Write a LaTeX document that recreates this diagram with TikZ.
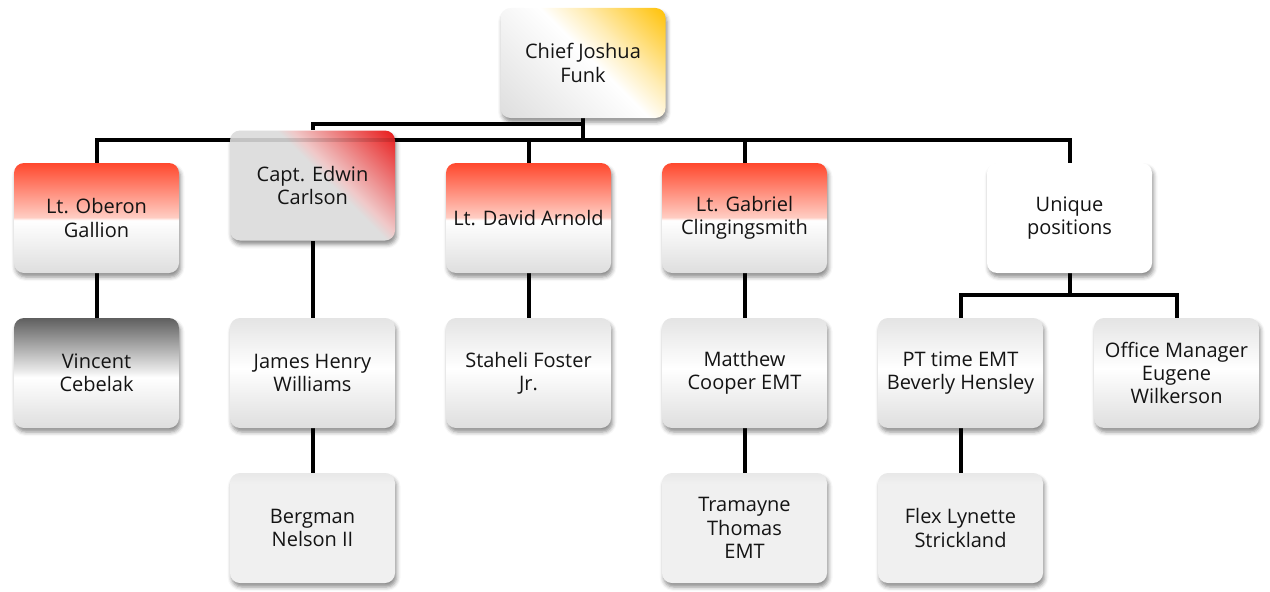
\documentclass[tikz,border=0pt]{standalone}
\usepackage{fontspec}
\setmainfont{Open Sans}
\usetikzlibrary{shadows.blur}
\pgfdeclarelayer{bg}
\pgfsetlayers{bg,main}
\definecolor{redtop}{RGB}{255,72,45}
\definecolor{redpale}{RGB}{255,205,195}
\definecolor{gA}{RGB}{222,222,222}
\definecolor{gB}{RGB}{228,228,228}
\definecolor{gC}{RGB}{240,240,240}
\definecolor{gD}{RGB}{232,232,232}
\definecolor{gdark}{RGB}{95,95,95}
\definecolor{yel}{RGB}{255,192,0}
\definecolor{yelpale}{RGB}{255,236,180}
\definecolor{capred}{RGB}{232,22,22}
\definecolor{cappale}{RGB}{240,200,200}
\definecolor{txt}{RGB}{20,20,20}
\pgfdeclareverticalshading{redbox}{100bp}{color(0bp)=(gA); color(25bp)=(gA); color(49bp)=(white); color(50.3bp)=(redpale); color(75bp)=(redtop); color(100bp)=(redtop)}
\pgfdeclareverticalshading{silver}{100bp}{color(0bp)=(gA); color(25bp)=(gA); color(52bp)=(white); color(75bp)=(gB); color(100bp)=(gB)}
\pgfdeclareverticalshading{darkbox}{100bp}{color(0bp)=(gA); color(25bp)=(gA); color(48bp)=(white); color(52bp)=(gB); color(75bp)=(gdark); color(100bp)=(gdark)}
\pgfdeclareverticalshading{flatbox}{100bp}{color(0bp)=(gC); color(25bp)=(gC); color(70bp)=(gC); color(75bp)=(gD); color(100bp)=(gD)}
\pgfdeclarehorizontalshading{chiefsh}{100bp}{color(0bp)=(gA); color(15bp)=(gA); color(53bp)=(white); color(64bp)=(yelpale); color(86bp)=(yel); color(100bp)=(yel)}
\pgfdeclarehorizontalshading{captsh}{100bp}{color(0bp)=(gA); color(15bp)=(gA); color(55bp)=(gA); color(59bp)=(cappale); color(86bp)=(capred); color(100bp)=(capred)}
\tikzset{
  box/.style={rounded corners=7.5pt, minimum width=123.75pt, minimum height=82.5pt,
    align=center, font=\fontsize{15}{17.5}\selectfont, text=txt, inner sep=2pt,
    blur shadow={shadow xshift=1.2pt, shadow yshift=-3pt, shadow blur radius=3pt, shadow opacity=45}},
  redb/.style={box, shade, shading=redbox},
  silb/.style={box, shade, shading=silver},
  darkb/.style={box, shade, shading=darkbox},
  flatb/.style={box, shade, shading=flatbox},
  whiteb/.style={box, fill=white},
  conn/.style={line width=3pt, black, line join=miter}
}
\begin{document}
\begin{tikzpicture}[x=0.75pt,y=-0.75pt]
\useasboundingbox (0,0) rectangle (1270,592);
\node[box, shade, shading=chiefsh, shading angle=45] (chief) at (583,63) {Chief Joshua\\Funk};
\node[redb] (oberon) at (96.5,218) {Lt. Oberon\\Gallion};
\node[box, shade, shading=captsh, shading angle=45] (capt) at (312.5,185.5) {Capt. Edwin\\Carlson};
\node[redb] (david) at (528.5,218) {Lt. David Arnold};
\node[redb] (gabriel) at (744.5,218) {Lt. Gabriel\\Clingingsmith};
\node[whiteb] (unique) at (1069.5,218) {Unique\\positions};
\node[darkb] (vincent) at (96.5,373) {Vincent\\Cebelak};
\node[silb] (james) at (312.5,373) {James Henry\\Williams};
\node[silb] (staheli) at (528.5,373) {Staheli Foster\\Jr.};
\node[silb] (matthew) at (744.5,373) {Matthew\\Cooper EMT};
\node[silb] (pt) at (960.5,373) {PT time EMT\\Beverly Hensley};
\node[silb] (office) at (1176.5,373) {Office Manager\\Eugene\\Wilkerson};
\node[flatb] (bergman) at (312.5,528) {Bergman\\Nelson II};
\node[flatb] (tramayne) at (744.5,528) {Tramayne\\Thomas\\EMT};
\node[flatb] (flex) at (960.5,528) {Flex Lynette\\Strickland};
\coordinate (bus) at (583,140);
\coordinate (cj) at (583,124);
\coordinate (ub) at (1069.5,295);
\begin{pgfonlayer}{bg}
\draw[conn] (chief.south) -- (bus);
\draw[conn] (oberon.north) -- (oberon.north |- bus) -- (unique.north |- bus) -- (unique.north);
\draw[conn] (david.north) -- (david.north |- bus);
\draw[conn] (gabriel.north) -- (gabriel.north |- bus);
\draw[conn] (capt.north) -- (capt.north |- cj) -- (cj);
\draw[conn] (oberon) -- (vincent);
\draw[conn] (capt) -- (james);
\draw[conn] (james) -- (bergman);
\draw[conn] (david) -- (staheli);
\draw[conn] (gabriel) -- (matthew);
\draw[conn] (matthew) -- (tramayne);
\draw[conn] (unique.south) -- (ub);
\draw[conn] (pt.north) -- (pt.north |- ub) -- (office.north |- ub) -- (office.north);
\draw[conn] (pt) -- (flex);
\end{pgfonlayer}
\draw[line width=3pt, black, opacity=0.12] (capt.west |- bus) -- (capt.east |- bus);
\end{tikzpicture}
\end{document}
